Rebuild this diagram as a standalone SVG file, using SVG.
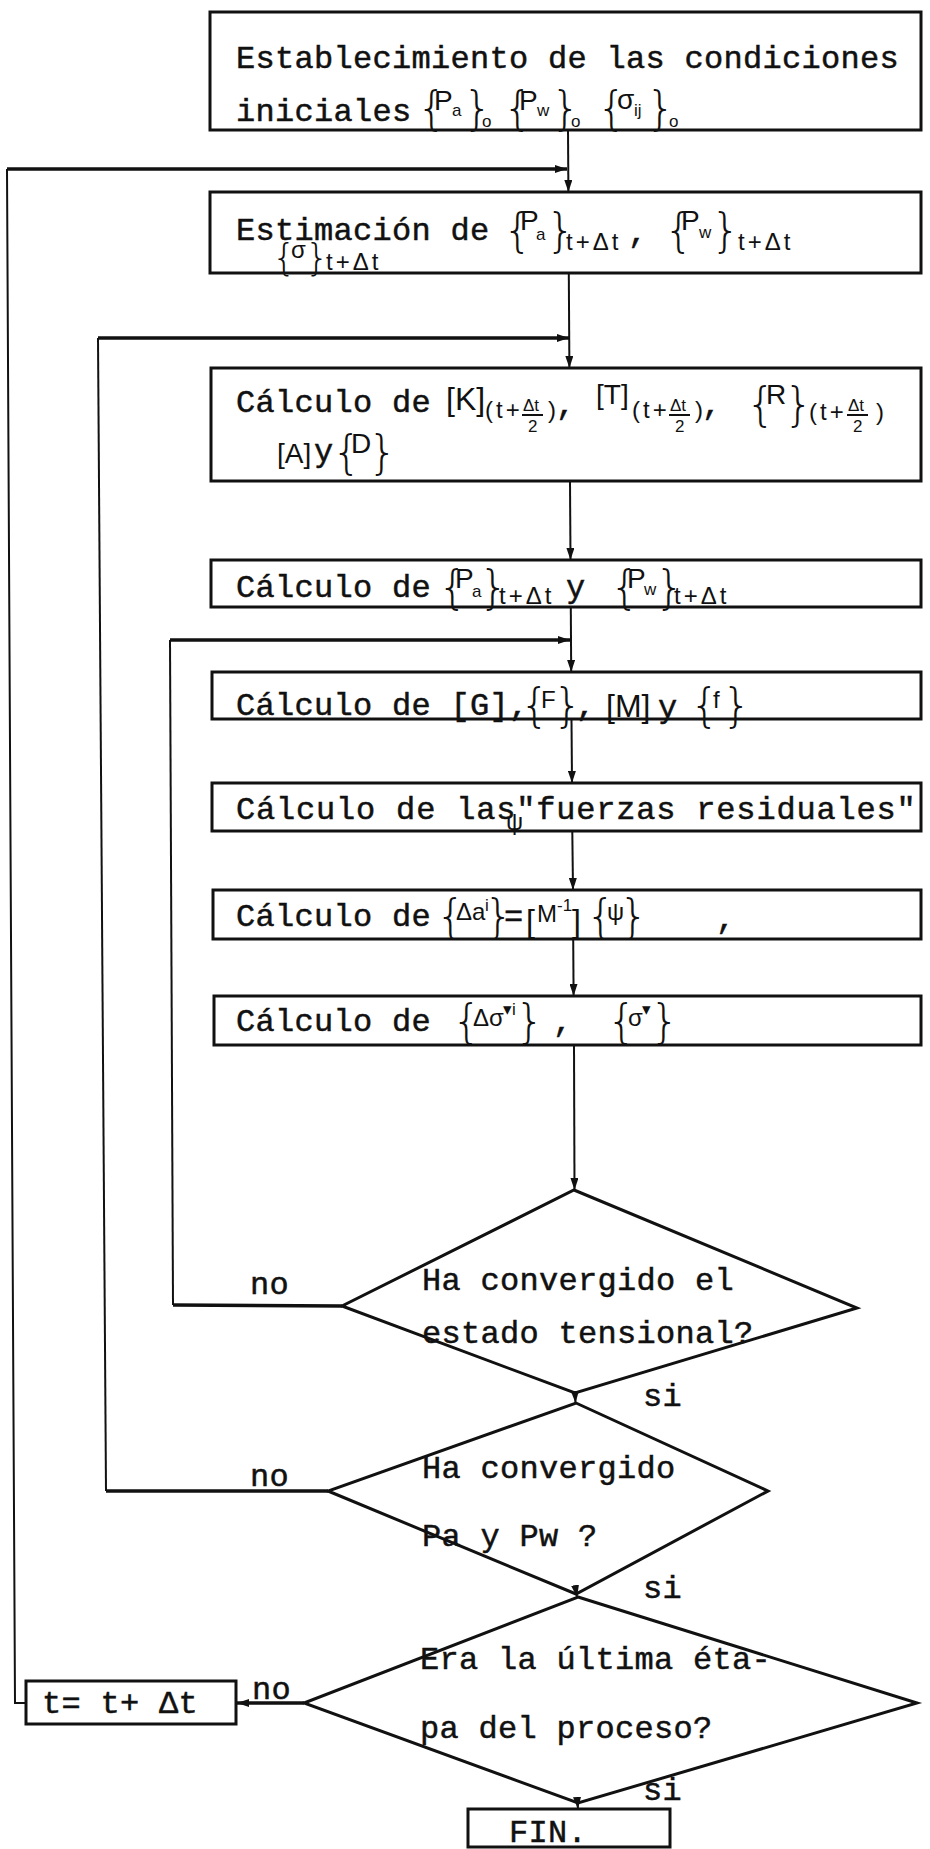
<svg xmlns="http://www.w3.org/2000/svg" width="930" height="1849" viewBox="0 0 930 1849">
<style>
  .bx { fill: none; stroke: #111; stroke-width: 3; }
  .ln { fill: none; stroke: #111; stroke-width: 2; }
  .lk { fill: none; stroke: #111; stroke-width: 3.5; }
  .dm { fill: none; stroke: #111; stroke-width: 3; stroke-linejoin: miter; }
  .tw { font-family: "Liberation Mono", "Courier New", monospace; font-size: 32px; fill: #111; stroke: #111; stroke-width: 0.5; letter-spacing: 0.3px; }
  .hm { font-family: "Liberation Sans", Arial, sans-serif; font-size: 28px; fill: #111; }
  .hs { font-family: "Liberation Sans", Arial, sans-serif; font-size: 24px; fill: #111; }
  .st { font-family: "Liberation Sans", Arial, sans-serif; font-size: 24px; fill: #111; letter-spacing: 3px; }
  .sb { font-family: "Liberation Sans", Arial, sans-serif; font-size: 17px; fill: #111; }
  .fr { font-family: "Liberation Sans", Arial, sans-serif; font-size: 17px; fill: #111; }
  .br { font-family: "DejaVu Sans", sans-serif; font-size: 46px; fill: #111; font-weight: 300; }
  .bs { font-family: "DejaVu Sans", sans-serif; font-size: 38px; fill: #111; font-weight: 300; }
  .bk { font-family: "Liberation Sans", Arial, sans-serif; font-size: 32px; fill: #111; }
  .bm { font-family: "Liberation Sans", Arial, sans-serif; font-size: 28px; fill: #111; }
</style>
<defs>
  <marker id="ah" viewBox="0 0 12 8" refX="12" refY="4" markerWidth="12" markerHeight="8" markerUnits="userSpaceOnUse" orient="auto">
    <path d="M0,0 L12,4 L0,8 z" fill="#111"/>
  </marker>
</defs>
<rect width="930" height="1849" fill="#fff"/>

<!-- connectors -->
<g id="connectors">
  <path class="ln" d="M568,130 L568.4,192" marker-end="url(#ah)"/>
  <path class="ln" d="M568.8,273 L569.4,368" marker-end="url(#ah)"/>
  <path class="ln" d="M570,481 L570.5,560" marker-end="url(#ah)"/>
  <path class="ln" d="M570.8,607 L571.2,672" marker-end="url(#ah)"/>
  <path class="ln" d="M571.5,719 L572,783" marker-end="url(#ah)"/>
  <path class="ln" d="M572.3,831 L573,890" marker-end="url(#ah)"/>
  <path class="ln" d="M573.2,939 L573.6,996" marker-end="url(#ah)"/>
  <path class="ln" d="M574,1045 L574.5,1190" marker-end="url(#ah)"/>
  <path class="ln" d="M575,1393 L575.5,1403" marker-end="url(#ah)"/>
  <path class="ln" d="M576.5,1594 L577,1597" marker-end="url(#ah)"/>
  <path class="ln" d="M577.5,1803 L578,1809" marker-end="url(#ah)"/>
  <!-- outer loop: next time step -->
  <path class="ln" d="M26,1703 L15,1703 L7,169"/>
  <path class="lk" d="M7,169 L567,169" marker-end="url(#ah)"/>
  <!-- middle loop: pressures not converged -->
  <path class="ln" d="M106,1491 L98,338"/>
  <path class="lk" d="M328,1491 L106,1491"/>
  <path class="lk" d="M98,338 L569,338" marker-end="url(#ah)"/>
  <!-- inner loop: stresses not converged -->
  <path class="ln" d="M173,1305 L170,640"/>
  <path class="lk" d="M342,1306 L173,1305"/>
  <path class="lk" d="M170,640 L570,640" marker-end="url(#ah)"/>
  <!-- last stage? no -->
  <path class="lk" d="M304,1703 L237,1703" marker-end="url(#ah)"/>
</g>

<g id="n1">
  <rect class="bx" x="210" y="12" width="711" height="118"/>
  <text class="tw" x="236" y="68">Establecimiento de las condiciones</text>
  <text class="tw" x="236" y="121">iniciales</text>
  <text class="br" x="417" y="124">{</text><text class="hm" x="434" y="110">P</text><text class="sb" x="452" y="116">a</text><text class="br" x="463" y="124">}</text><text class="sb" x="482" y="127">o</text>
  <text class="br" x="503" y="124">{</text><text class="hm" x="519" y="110">P</text><text class="sb" x="537" y="116">w</text><text class="br" x="551" y="124">}</text><text class="sb" x="571" y="127">o</text>
  <text class="br" x="597" y="124">{</text><text class="hm" x="617" y="109">σ</text><text class="sb" x="634" y="116">ij</text><text class="br" x="646" y="124">}</text><text class="sb" x="669" y="127">o</text>
</g>

<g id="n2">
  <rect class="bx" x="210" y="192" width="711" height="81"/>
  <text class="tw" x="236" y="240">Estimación de</text>
  <text class="br" x="503" y="246">{</text><text class="hm" x="520" y="230">P</text><text class="sb" x="536" y="240">a</text><text class="br" x="546" y="246">}</text><text class="st" x="566" y="250">t+Δt</text><text class="tw" x="628" y="242">,</text>
  <text class="br" x="664" y="246">{</text><text class="hm" x="681" y="230">P</text><text class="sb" x="699" y="238">w</text><text class="br" x="711" y="246">}</text><text class="st" x="738" y="250">t+Δt</text>
  <text class="bs" x="272" y="270">{</text><text class="hs" x="291" y="258">σ</text><text class="bs" x="305" y="270">}</text><text class="st" x="326" y="270">t+Δt</text>
</g>

<g id="n3">
  <rect class="bx" x="211" y="368" width="710" height="113"/>
  <text class="tw" x="236" y="412">Cálculo de</text>
  <text class="bk" x="446" y="410">[K]</text><text class="st" x="485" y="418">(t+</text>
  <text class="fr" x="523" y="411">Δt</text><path class="ln" d="M522,415 L543,415"/><text class="fr" x="528" y="432">2</text><text class="hs" x="548" y="418">)</text><text class="tw" x="556" y="414">,</text>
  <text class="hm" x="596" y="404">[T]</text><text class="st" x="632" y="418">(t+</text>
  <text class="fr" x="670" y="411">Δt</text><path class="ln" d="M669,415 L690,415"/><text class="fr" x="675" y="432">2</text><text class="hs" x="695" y="418">)</text><text class="tw" x="702" y="414">,</text>
  <text class="br" x="746" y="420">{</text><text class="hm" x="766" y="404">R</text><text class="br" x="784" y="420">}</text><text class="st" x="809" y="420">(t+</text>
  <text class="fr" x="848" y="411">Δt</text><path class="ln" d="M847,415 L868,415"/><text class="fr" x="853" y="432">2</text><text class="hs" x="876" y="420">)</text>
  <text class="bm" x="277" y="463">[A]</text><text class="tw" x="314" y="461">y</text>
  <text class="br" x="332" y="468">{</text><text class="hm" x="351" y="453">D</text><text class="br" x="368" y="468">}</text>
</g>

<g id="n4">
  <rect class="bx" x="211" y="560" width="710" height="47"/>
  <text class="tw" x="236" y="597">Cálculo de</text>
  <text class="br" x="438" y="603">{</text><text class="hm" x="455" y="588">P</text><text class="sb" x="472" y="597">a</text><text class="br" x="479" y="603">}</text><text class="st" x="499" y="604">t+Δt</text>
  <text class="tw" x="566" y="597">y</text>
  <text class="br" x="610" y="603">{</text><text class="hm" x="627" y="588">P</text><text class="sb" x="644" y="595">w</text><text class="br" x="655" y="603">}</text><text class="st" x="674" y="604">t+Δt</text>
</g>

<g id="n5">
  <rect class="bx" x="212" y="672" width="709" height="47"/>
  <text class="tw" x="236" y="715">Cálculo de [G],</text>
  <text class="br" x="520" y="721">{</text><text class="hs" x="541" y="708">F</text><text class="br" x="553" y="721">}</text><text class="tw" x="576" y="715">,</text>
  <text class="bk" x="606" y="717">[M]</text><text class="tw" x="658" y="717">y</text>
  <text class="br" x="690" y="721">{</text><text class="hs" x="713" y="708">f</text><text class="br" x="722" y="721">}</text>
</g>

<g id="n6">
  <rect class="bx" x="212" y="783" width="709" height="48"/>
  <text class="tw" x="236" y="819" textLength="680">Cálculo de las"fuerzas residuales"</text>
  <text class="hs" x="506" y="830">ψ</text>
</g>

<g id="n7">
  <rect class="bx" x="213" y="890" width="708" height="49"/>
  <text class="tw" x="236" y="926">Cálculo de</text>
  <text class="br" x="436" y="932">{</text><text class="hs" x="456" y="920">Δa</text><text class="sb" x="485" y="911">i</text><text class="br" x="484" y="932">}</text>
  <text class="tw" x="504" y="926">=</text>
  <text class="bk" x="526" y="932">[</text><text class="hs" x="537" y="922">M</text><text class="sb" x="557" y="911">-1</text><text class="bk" x="572" y="932">]</text>
  <text class="br" x="586" y="932">{</text><text class="hs" x="607" y="920">ψ</text><text class="br" x="619" y="932">}</text>
  <text class="tw" x="716" y="928">,</text>
</g>

<g id="n8">
  <rect class="bx" x="214" y="996" width="707" height="49"/>
  <text class="tw" x="236" y="1031">Cálculo de</text>
  <text class="br" x="452" y="1037">{</text><text class="hs" x="473" y="1026">Δσ</text><text class="sb" x="503" y="1015">▾i</text><text class="br" x="515" y="1037">}</text>
  <text class="tw" x="553" y="1031">,</text>
  <text class="br" x="607" y="1037">{</text><text class="hs" x="628" y="1026">σ</text><text class="sb" x="642" y="1015">▾</text><text class="br" x="650" y="1037">}</text>
</g>

<g id="d1">
  <polygon class="dm" points="574,1190 857,1308 575,1393 342,1306"/>
  <text class="tw" x="422" y="1290">Ha convergido el</text>
  <text class="tw" x="422" y="1343">estado tensional?</text>
  <text class="tw" x="250" y="1294">no</text>
  <text class="tw" x="643" y="1406">si</text>
</g>

<g id="d2">
  <polygon class="dm" points="576,1403 768,1491 576,1594 328,1491"/>
  <text class="tw" x="422" y="1478">Ha convergido</text>
  <text class="tw" x="422" y="1546">Pa y Pw ?</text>
  <text class="tw" x="250" y="1486">no</text>
  <text class="tw" x="643" y="1598">si</text>
</g>

<g id="d3">
  <polygon class="dm" points="578,1597 917,1703 578,1803 304,1703"/>
  <text class="tw" x="420" y="1669">Era la última éta-</text>
  <text class="tw" x="420" y="1738">pa del proceso?</text>
  <text class="tw" x="252" y="1699">no</text>
  <text class="tw" x="643" y="1800">si</text>
</g>

<g id="n9">
  <rect class="bx" x="26" y="1681" width="210" height="43"/>
  <text class="tw" x="42" y="1713">t= t+ Δt</text>
</g>

<g id="n10">
  <rect class="bx" x="468" y="1809" width="202" height="38"/>
  <text class="tw" x="509" y="1842">FIN.</text>
</g>
</svg>
